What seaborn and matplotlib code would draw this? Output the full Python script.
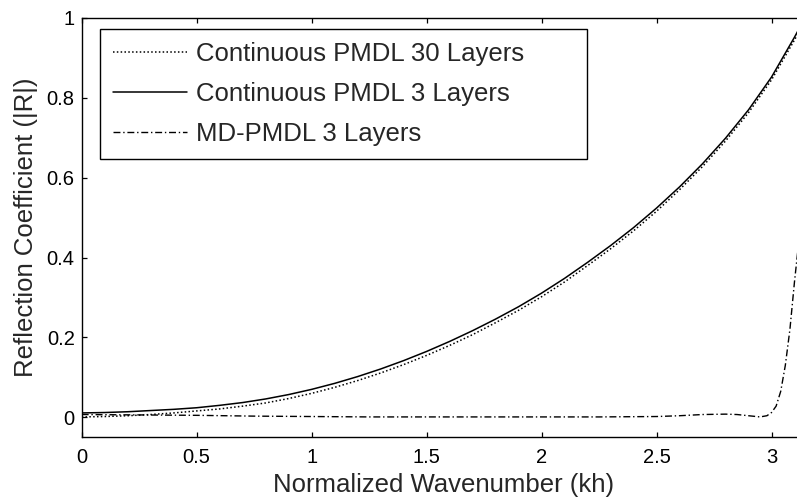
import matplotlib
matplotlib.use("Agg")
import matplotlib.pyplot as plt
import numpy as np
import pandas as pd
import seaborn as sns

# ---- data ----
x_cont = [0.0, 0.1, 0.2, 0.3, 0.4, 0.5, 0.6, 0.7, 0.8, 0.9, 1.0,
          1.1, 1.2, 1.3, 1.4, 1.5, 1.6, 1.7, 1.8, 1.9, 2.0,
          2.1, 2.2, 2.3, 2.4, 2.5, 2.6, 2.7, 2.8, 2.9, 3.0, 3.1, 3.15]
r_cont30 = [0.001, 0.002, 0.004, 0.007, 0.011, 0.016, 0.021, 0.028, 0.036, 0.047, 0.060,
            0.075, 0.092, 0.111, 0.132, 0.155, 0.180, 0.207, 0.237, 0.268, 0.302,
            0.339, 0.380, 0.422, 0.467, 0.516, 0.570, 0.628, 0.692, 0.763, 0.845, 0.945, 0.998]
r_cont3 = [0.011, 0.012, 0.014, 0.017, 0.020, 0.024, 0.030, 0.037, 0.046, 0.057, 0.070,
           0.085, 0.102, 0.121, 0.142, 0.165, 0.190, 0.217, 0.246, 0.277, 0.311,
           0.348, 0.388, 0.430, 0.475, 0.524, 0.577, 0.635, 0.699, 0.770, 0.852, 0.952, 1.005]
x_md = [0.0, 0.25, 0.5, 0.75, 1.0, 1.25, 1.5, 1.75, 2.0, 2.25, 2.5, 2.6, 2.7, 2.8,
        2.85, 2.9, 2.95, 2.98, 3.0, 3.02, 3.04, 3.06, 3.08, 3.1, 3.115]
r_md = [0.007, 0.006, 0.005, 0.003, 0.002, 0.001, 0.001, 0.001, 0.001, 0.001, 0.002, 0.004,
        0.007, 0.008, 0.007, 0.004, 0.001, 0.004, 0.012, 0.028, 0.065, 0.13, 0.22, 0.34, 0.42]
series_labels = ["Continuous PMDL 30 Layers", "Continuous PMDL 3 Layers", "MD-PMDL 3 Layers"]
x_ticks = [0, 0.5, 1, 1.5, 2, 2.5, 3]
x_tick_labels = ["0", "0.5", "1", "1.5", "2", "2.5", "3"]
y_ticks = [0, 0.2, 0.4, 0.6, 0.8, 1]
y_tick_labels = ["0", "0.2", "0.4", "0.6", "0.8", "1"]
x_label = "Normalized Wavenumber (kh)"
y_label = "Reflection Coefficient (|R|)"

sns.set_style("ticks")
plt.rcParams["font.family"] = ["Liberation Sans", "DejaVu Sans"]

fig = plt.figure(figsize=(7.97, 4.98), dpi=100)
ax = fig.add_axes([0.1025, 0.1219, 0.9088, 0.842])

df30 = pd.DataFrame({"x": x_cont, "y": r_cont30})
df3 = pd.DataFrame({"x": x_cont, "y": r_cont3})
dfmd = pd.DataFrame({"x": x_md, "y": r_md})

sns.lineplot(data=df30, x="x", y="y", ax=ax, color="black", lw=1.1,
             linestyle=(0, (1, 1.5)), label=series_labels[0])
sns.lineplot(data=df3, x="x", y="y", ax=ax, color="black", lw=1.1,
             linestyle="-", label=series_labels[1])
sns.lineplot(data=dfmd, x="x", y="y", ax=ax, color="black", lw=1.0,
             linestyle=(0, (5, 2, 1, 2)), label=series_labels[2])

ax.set_xlim(0, 3.15)
ax.set_ylim(-0.05, 1)
ax.set_xticks(x_ticks)
ax.set_xticklabels(x_tick_labels)
ax.set_yticks(y_ticks)
ax.set_yticklabels(y_tick_labels)
ax.tick_params(direction="in", length=3.6, width=0.9, top=True, right=True,
               labelsize=14.5, colors="black")
ax.tick_params(axis="x", pad=7.5)
ax.tick_params(axis="y", pad=5)
for s in ax.spines.values():
    s.set_visible(True)
    s.set_linewidth(1.0)
    s.set_color("black")

ax.set_xlabel(x_label, fontsize=18.5, labelpad=4.5)
ax.set_ylabel(y_label, fontsize=18.5, labelpad=6)

leg = ax.legend(loc="upper left",
                bbox_to_anchor=(100 / 797, 1 - 156 / 498, 486.7 / 797, 127 / 498),
                bbox_transform=fig.transFigure, mode="expand", borderaxespad=0,
                fontsize=18.5, handlelength=2.9, handletextpad=0.35,
                borderpad=0.5, labelspacing=0.62, fancybox=False,
                framealpha=1, edgecolor="black")
leg.get_frame().set_linewidth(1.0)

fig.savefig("out.png", dpi=100)
